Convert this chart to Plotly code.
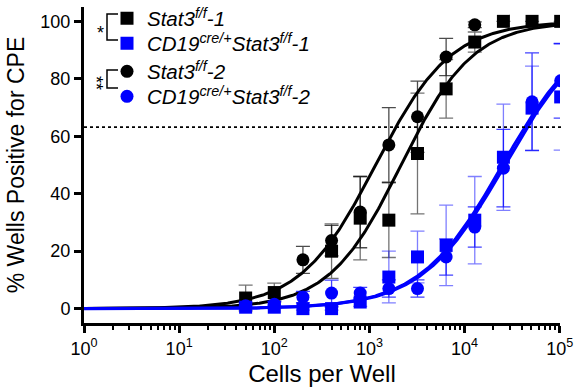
import numpy as np
import plotly.graph_objects as go

# ---------------- data ----------------
cells = [50, 100, 200, 400, 800, 1600, 3200, 6400, 12800, 25600, 51200, 102400]

stat3_1 = [3.7, 5.6, None, 20, 31.5, 30.8, 54, 76.5, 92.8, 100, 100, 100]
stat3_1_err = [4.5, 3.3, None, 9.5, 14.5, 13, 21, 10.2, 3.5, 0, 0, 0]

cd19_1 = [0.5, 0.5, 0, 0, 2.3, 11, 18, 22, 30.8, 52.7, 69.8, 73.7]
cd19_1_err = [0.5, 0.5, 0.5, 0.5, 1.5, 9, 9, 14, 15.2, 18.5, 14.6, 18.5]

cells_2 = [200, 400, 800, 1600, 3200, 6400, 12800]
stat3_2 = [17, 23.7, 33.6, 57, 66.8, 87.6, 98.8]
stat3_2_err = [4.7, 5.3, 12.4, 13, 12.4, 6.5, 1]

cd19_2 = [1, 1.5, 4, 5.4, 5.4, 7, 7, 18, 28.4, 48.9, 72, 79.3]
cd19_2_err = [1, 1, 2, 4.5, 2, 3, 3, 6.3, 7, 13.5, 17, 13]

# fitted dose-response model parameters (EC50, Hill slope)
fit_stat3_1 = (2150, 1.15)
fit_cd19_1 = (25000, 1.0)
fit_stat3_2 = (1160, 1.1)
fit_cd19_2 = (26500, 1.0)

threshold = 63.2
x_ticks = [1, 10, 100, 1000, 10000, 100000]
x_ticklabels = ["10<sup>0</sup>", "10<sup>1</sup>", "10<sup>2</sup>",
                "10<sup>3</sup>", "10<sup>4</sup>", "10<sup>5</sup>"]
y_ticks = [0, 20, 40, 60, 80, 100]

names = ["<i>Stat3<sup>f/f</sup>-1</i>",
         "<i>CD19<sup>cre/+</sup>Stat3<sup>f/f</sup>-1</i>",
         "<i>Stat3<sup>f/f</sup>-2</i>",
         "<i>CD19<sup>cre/+</sup>Stat3<sup>f/f</sup>-2</i>"]

BLACK = "#000000"
BLUE = "#0000ff"
FONT = "Arial, Liberation Sans, Helvetica, sans-serif"

W, H = 582, 389
ML, MR, MT, MB = 84, 22, 7, 66
PW, PH = W - ML - MR, H - MT - MB


def px(xp):
    return (xp - ML) / PW


def py(yp):
    return (H - MB - yp) / PH


def model(params, xs):
    ec50, hill = params
    xs = np.asarray(xs, dtype=float)
    return 100.0 / (1.0 + (ec50 / xs) ** hill)


xcurve = np.logspace(0, 5, 400)

fig = go.Figure()

# fitted curves
for params, col in [(fit_stat3_1, BLACK), (fit_stat3_2, BLACK),
                    (fit_cd19_1, BLUE), (fit_cd19_2, BLUE)]:
    fig.add_trace(go.Scatter(x=xcurve, y=model(params, xcurve), mode="lines",
                             line=dict(color=col, width=3), showlegend=False,
                             hoverinfo="skip"))

# data with error bars (each in its own legend box so rows can be placed)
series = [
    (cells, stat3_1, stat3_1_err, BLACK, "rgba(0,0,0,0.55)", "square", names[0], "legend"),
    (cells, cd19_1, cd19_1_err, BLUE, "rgba(0,0,255,0.5)", "square", names[1], "legend2"),
    (cells_2, stat3_2, stat3_2_err, BLACK, "rgba(0,0,0,0.7)", "circle", names[2], "legend3"),
    (cells, cd19_2, cd19_2_err, BLUE, "rgba(0,0,255,0.75)", "circle", names[3], "legend4"),
]
for xs, ys, es, col, ecol, sym, nm, lg in series:
    fig.add_trace(go.Scatter(
        x=xs, y=ys, mode="markers", name=nm, legend=lg,
        marker=dict(symbol=sym, size=13, color=col, line=dict(width=0)),
        error_y=dict(type="data", array=es, visible=True, color=ecol,
                     thickness=1.3, width=7),
    ))

# dotted threshold line
fig.add_shape(type="line", xref="paper", yref="y", x0=0, x1=1.003,
              y0=threshold, y1=threshold,
              line=dict(color=BLACK, width=1.6, dash="dot"))

# significance brackets
for top, bot in [(14, 40), (70, 88)]:
    fig.add_shape(type="path", xref="paper", yref="paper",
                  path=f"M {px(118)} {py(top)} L {px(107)} {py(top)} "
                       f"L {px(107)} {py(bot)} L {px(118)} {py(bot)}",
                  line=dict(color=BLACK, width=1.5))
fig.add_annotation(x=px(100), y=py(33), xref="paper", yref="paper",
                   text="*", showarrow=False, xanchor="center", yanchor="middle",
                   font=dict(size=18, color=BLACK, family=FONT))
fig.add_annotation(x=px(96), y=py(83), xref="paper", yref="paper",
                   text="**", showarrow=False, textangle=90,
                   xanchor="center", yanchor="middle",
                   font=dict(size=18, color=BLACK, family=FONT))

row_y = [18.5, 43.5, 71.5, 96.5]
legend_common = dict(xanchor="left", yanchor="middle", bgcolor="rgba(0,0,0,0)",
                     font=dict(size=20.5, family=FONT, color=BLACK),
                     itemwidth=30, borderwidth=0)

fig.update_layout(
    width=W, height=H,
    margin=dict(l=ML, r=MR, t=MT, b=MB, autoexpand=False),
    paper_bgcolor="white", plot_bgcolor="white",
    font=dict(family=FONT, color=BLACK),
    legend=dict(x=px(107), y=py(row_y[0]), **legend_common),
    legend2=dict(x=px(107), y=py(row_y[1]), **legend_common),
    legend3=dict(x=px(107), y=py(row_y[2]), **legend_common),
    legend4=dict(x=px(107), y=py(row_y[3]), **legend_common),
    xaxis=dict(type="log", range=[0, 5.003], showgrid=False, zeroline=False,
               showline=True, linecolor=BLACK, linewidth=3,
               ticks="outside", ticklen=7, tickwidth=2.5, tickcolor=BLACK,
               tickvals=x_ticks, ticktext=x_ticklabels,
               tickfont=dict(size=18, family=FONT, color=BLACK),
               minor=dict(ticks="outside", ticklen=4, tickwidth=2,
                          tickcolor=BLACK, dtick="D1", showgrid=False),
               title=dict(text="Cells per Well", standoff=8,
                          font=dict(size=24, family=FONT, color=BLACK))),
    yaxis=dict(range=[-5, 105], showgrid=False, zeroline=False,
               showline=True, linecolor=BLACK, linewidth=3,
               ticks="outside", ticklen=7, tickwidth=2.5, tickcolor=BLACK,
               tickvals=y_ticks,
               tickfont=dict(size=18, family=FONT, color=BLACK),
               title=dict(text="% Wells Positive for CPE", standoff=10,
                          font=dict(size=23, family=FONT, color=BLACK))),
)

fig.write_html("out.html", config={"displayModeBar": False},
               post_script="document.body.style.margin='0';"
                           "document.body.style.padding='0';")
